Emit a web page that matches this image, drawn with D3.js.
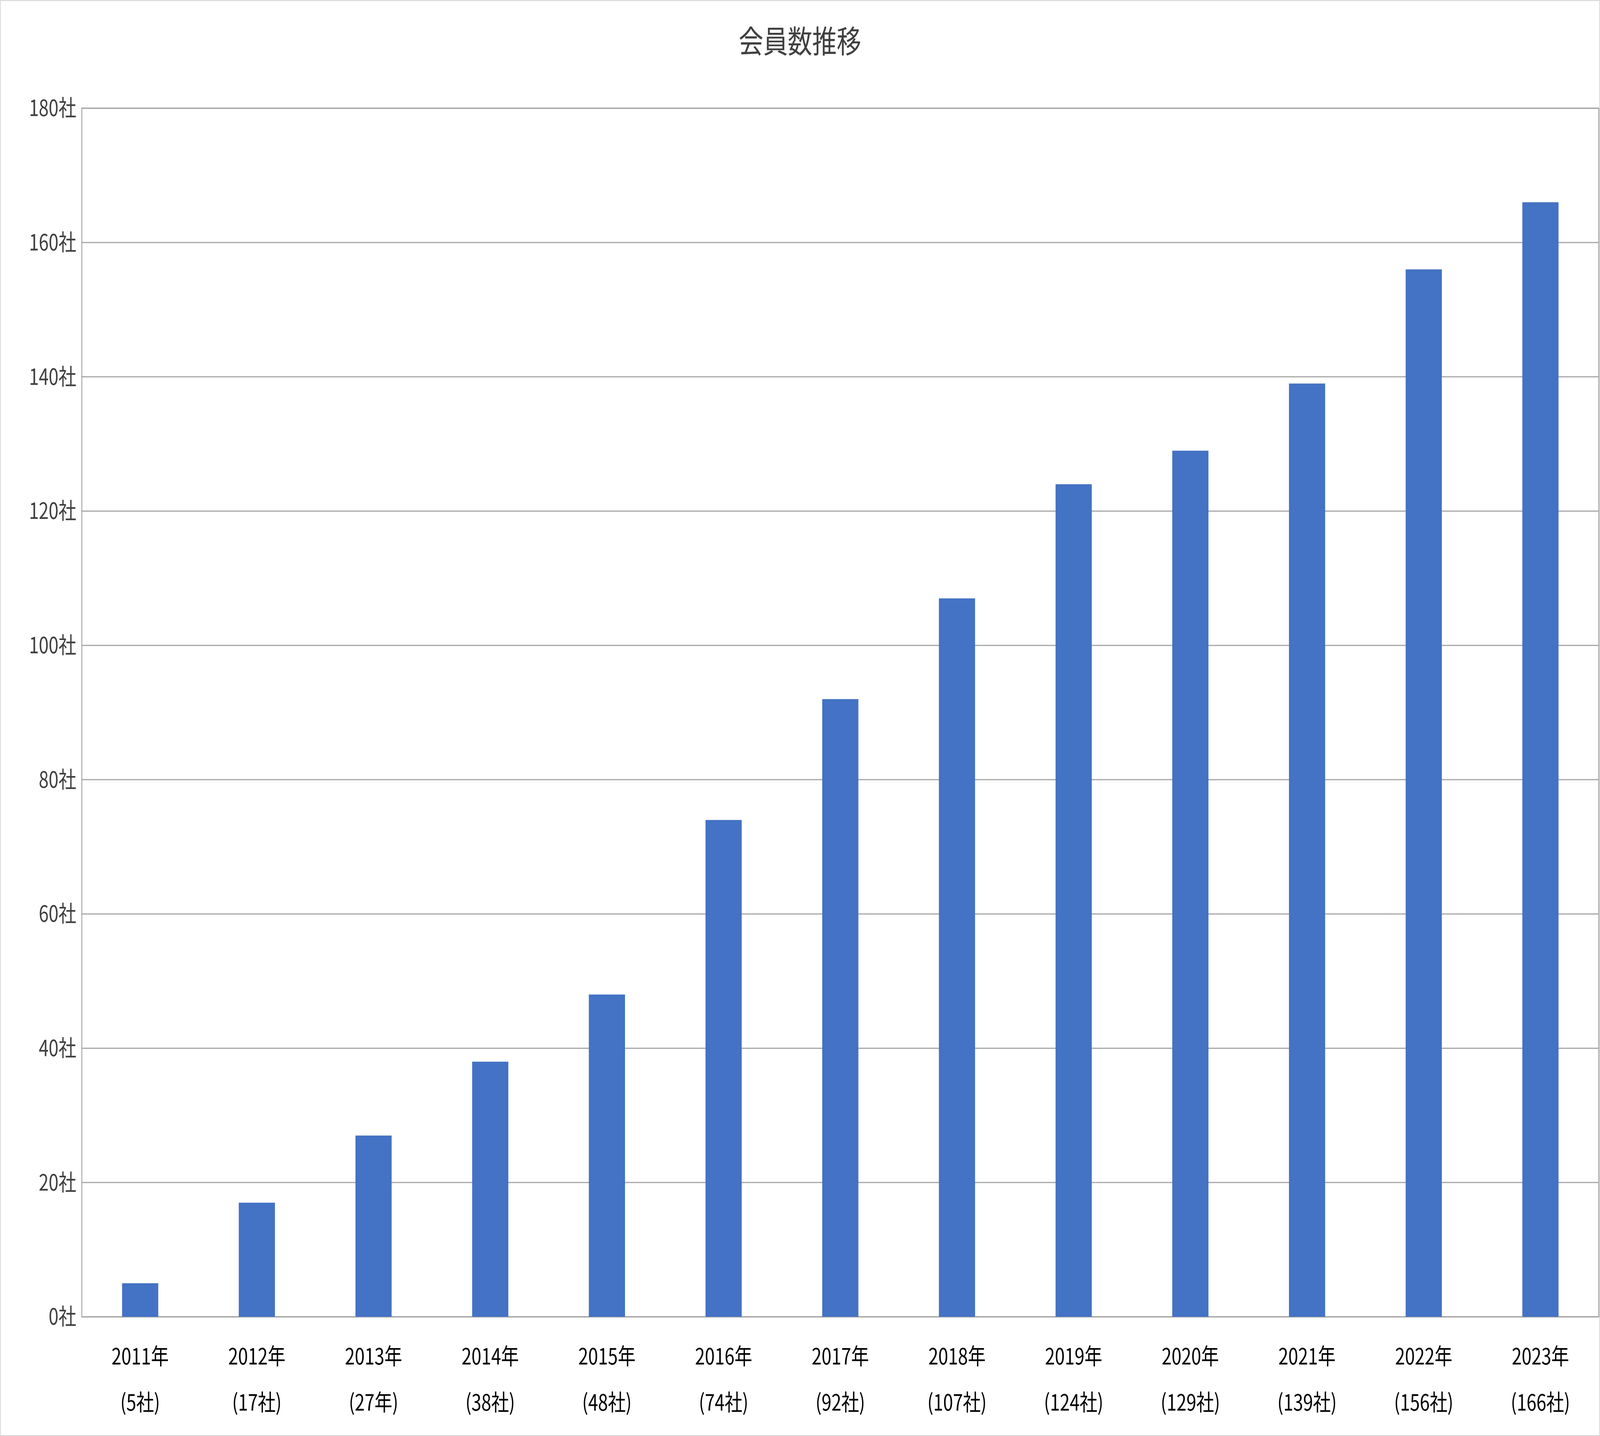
<!DOCTYPE html>
<html><head><meta charset="utf-8">
<script src="https://cdn.jsdelivr.net/npm/d3@7"></script>
<style>html,body{margin:0;padding:0;background:#fff;overflow:hidden}#chart{width:100vw;height:100vh}svg{display:block}</style>
</head><body><div id="chart"></div>
<script>
const years = ['2011年','2012年','2013年','2014年','2015年','2016年','2017年','2018年','2019年','2020年','2021年','2022年','2023年'];
const subLabels = ['(5社)','(17社)','(27年)','(38社)','(48社)','(74社)','(92社)','(107社)','(124社)','(129社)','(139社)','(156社)','(166社)'];
const members = [5,17,27,38,48,74,92,107,124,129,139,156,166];
const yTicks = [0,20,40,60,80,100,120,140,160,180];

const W = 5221, H = 3675;
const margin = { top: 277, right: 4, bottom: 305, left: 267 };
const width = W - margin.left - margin.right;
const height = H - margin.top - margin.bottom;
const font = '"Noto Sans CJK JP", "Noto Sans", sans-serif';

const svg = d3.select('#chart').append('svg')
  .attr('viewBox', `0 0 ${W} ${H}`)
  .attr('preserveAspectRatio', 'none')
  .attr('width', '100%').attr('height', '100%')
  .style('font-family', font);

// outer border
svg.append('rect').attr('x', 1).attr('y', 1).attr('width', W - 2).attr('height', H - 2)
  .attr('fill', '#fff').attr('stroke', '#d9d9d9').attr('stroke-width', 3);

const g = svg.append('g').attr('transform', `translate(${margin.left},${margin.top})`);

const x = d3.scaleBand().domain(years).range([0, width]).paddingInner(0.69).paddingOuter(0.345);
const y = d3.scaleLinear().domain([0, 180]).range([height, 0]);

// grid lines
g.selectAll('.grid').data(yTicks).enter().append('line')
  .attr('x1', 0).attr('x2', width)
  .attr('y1', d => y(d)).attr('y2', d => y(d))
  .attr('stroke', '#a6a6a6').attr('stroke-width', 3);

// plot frame
g.append('rect').attr('width', width).attr('height', height)
  .attr('fill', 'none').attr('stroke', '#a6a6a6').attr('stroke-width', 3);

// bars
g.selectAll('.bar').data(members).enter().append('rect')
  .attr('x', (d, i) => x(years[i]))
  .attr('width', x.bandwidth())
  .attr('y', d => y(d))
  .attr('height', d => height - y(d))
  .attr('fill', '#4472C4');

// y axis labels
g.selectAll('.ytick').data(yTicks).enter().append('text')
  .attr('x', -18).attr('y', d => y(d)).attr('dy', '0.35em')
  .attr('text-anchor', 'end').style('font-size', '58px').attr('fill', '#404040')
  .text(d => d + '社');

// x labels
const xl = g.selectAll('.xlab').data(years).enter().append('text')
  .attr('text-anchor', 'middle').style('font-size', '58px').attr('fill', '#000');
xl.append('tspan').attr('x', d => x(d) + x.bandwidth() / 2).attr('y', height + 122).text(d => d);
xl.append('tspan').attr('x', d => x(d) + x.bandwidth() / 2).attr('y', height + 240).text((d, i) => subLabels[i]);

// title
svg.append('text').attr('x', W / 2).attr('y', 135).attr('text-anchor', 'middle')
  .style('font-size', '80px').attr('fill', '#404040').text('会員数推移');
</script></body></html>
